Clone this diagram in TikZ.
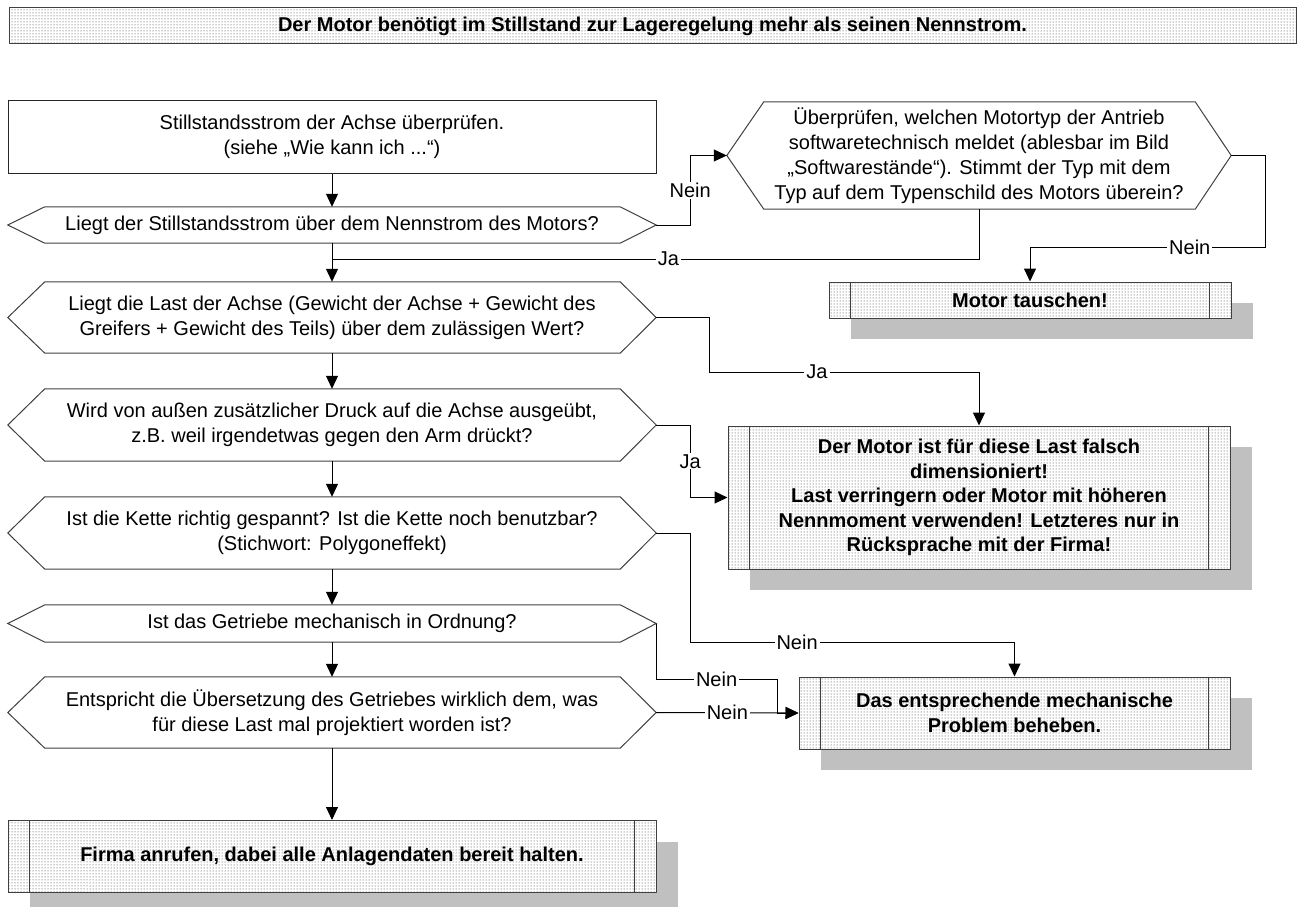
\documentclass[tikz,border=0pt]{standalone}
\usepackage{fontspec}
\setmainfont{Liberation Sans}
\usetikzlibrary{arrows.meta,shadows,patterns}
\definecolor{shadowgray}{RGB}{192,192,192}
\definecolor{edgegray}{RGB}{64,64,64}

\begin{document}
\begin{tikzpicture}[x=1pt,y=-1pt,
  txt/.style={font=\fontsize{20}{25}\selectfont, align=center, inner sep=0pt},
  plainbox/.style={txt, draw=black!85, line width=1pt},
  decision/.style={txt},
  dotted fill/.style={preaction={fill=white}, pattern=dots, pattern color=black!80},
  titlebar/.style={txt, font=\fontsize{20}{25}\selectfont\bfseries, draw=edgegray, line width=1pt, dotted fill},
  procbox/.style={txt, font=\fontsize{20}{24.5}\selectfont\bfseries, draw=edgegray, line width=1pt,
    general shadow={fill=shadowgray, shadow xshift=22pt, shadow yshift=-21pt}, dotted fill},
  shapeline/.style={draw=edgegray, line width=1pt},
  conn/.style={draw=black, line width=1pt},
  arr/.style={conn, -{Triangle[length=13pt,width=12pt]}},
  lab/.style={txt, fill=white, inner xsep=2pt, inner ysep=1pt}
]
\useasboundingbox (0,0) rectangle (1306,907);

% heading
\node[titlebar, minimum width=1287pt, minimum height=36pt] (title) at (652.5,26)
  {Der Motor benötigt im Stillstand zur Lageregelung mehr als seinen Nennstrom.};

% main column
\node[plainbox, minimum width=648pt, minimum height=73pt] (b1) at (332,136.5)
  {Stillstandsstrom der Achse überprüfen.\\(siehe „Wie kann ich ...“)};
\node[decision, minimum width=648pt, minimum height=36pt] (h2) at (332,225)
  {Liegt der Stillstandsstrom über dem Nennstrom des Motors?};
\node[decision, minimum width=648pt, minimum height=71pt] (h3) at (332,317.5)
  {Liegt die Last der Achse (Gewicht der Achse + Gewicht des\\Greifers + Gewicht des Teils) über dem zulässigen Wert?};
\node[decision, minimum width=648pt, minimum height=72pt] (h4) at (332,425)
  {Wird von außen zusätzlicher Druck auf die Achse ausgeübt,\\z.B. weil irgendetwas gegen den Arm drückt?};
\node[decision, minimum width=648pt, minimum height=72pt] (h5) at (332,533)
  {Ist die Kette richtig gespannt? Ist die Kette noch benutzbar?\\(Stichwort: Polygoneffekt)};
\node[decision, minimum width=648pt, minimum height=37pt] (h6) at (332,623.5)
  {Ist das Getriebe mechanisch in Ordnung?};
\node[decision, minimum width=648pt, minimum height=71pt] (h7) at (332,712.5)
  {Entspricht die Übersetzung des Getriebes wirklich dem, was\\für diese Last mal projektiert worden ist?};

% right column
\node[decision, minimum width=504pt, minimum height=107pt] (h8) at (979,155.5)
  {Überprüfen, welchen Motortyp der Antrieb\\softwaretechnisch meldet (ablesbar im Bild\\„Softwarestände“). Stimmt der Typ mit dem\\Typ auf dem Typenschild des Motors überein?};

% terminal actions
\node[procbox, minimum width=402pt, minimum height=36pt] (p1) at (1030,300) {Motor tauschen!};
\node[procbox, minimum width=502pt, minimum height=143pt] (p2) at (979,497.5)
  {Der Motor ist für diese Last falsch\\dimensioniert!\\Last verringern oder Motor mit höheren\\Nennmoment verwenden! Letzteres nur in\\Rücksprache mit der Firma!};
\node[procbox, minimum width=431pt, minimum height=72pt] (p3) at (1014.5,713)
  {Das entsprechende mechanische\\Problem beheben.};
\node[procbox, minimum width=648pt, minimum height=72pt] (p4) at (332,856.5)
  {Firma anrufen, dabei alle Anlagendaten bereit halten.};

% hexagon outlines of the decisions
\foreach \n in {h2,h3,h4,h5,h6,h7,h8}
  \draw[shapeline] (\n.west) -- ([xshift=37pt]\n.north west) -- ([xshift=-36pt]\n.north east)
    -- (\n.east) -- ([xshift=-36pt]\n.south east) -- ([xshift=37pt]\n.south west) -- cycle;

% inner side bars of the action boxes
\foreach \n in {p1,p2,p3,p4} {
  \draw[shapeline] ([xshift=22pt]\n.north west) -- ([xshift=22pt]\n.south west);
  \draw[shapeline] ([xshift=-22pt]\n.north east) -- ([xshift=-22pt]\n.south east);
}

% routing points
\coordinate (jm) at (332,259);
\coordinate (c1) at (1265,247);
\coordinate (c2) at (709,372);
\coordinate (c3) at (690,642);
\coordinate (c5) at (777,679);

% main flow
\draw[arr] (b1.south) -- (h2.north);
\draw[arr] (h2.south) -- (h3.north);
\draw[arr] (h3.south) -- (h4.north);
\draw[arr] (h4.south) -- (h5.north);
\draw[arr] (h5.south) -- (h6.north);
\draw[arr] (h6.south) -- (h7.north);
\draw[arr] (h7.south) -- (p4.north);

% branches
\draw[arr] (h2.east) -- ++(34,0) |- node[lab, pos=0.25] {Nein} (h8.west);
\draw[conn] (h8.south) |- node[lab, pos=0.74] {Ja} (jm);
\draw[arr] (h8.east) -| (c1) -| node[lab, pos=0.16] {Nein} (p1.north);
\draw[arr] (h3.east) -| (c2) -| node[lab, pos=0.2] {Ja} (p2.north);
\draw[arr] (h4.east) -- ++(34,0) |- node[lab, pos=0.25] {Ja} (p2.west);
\draw[arr] (h5.east) -| (c3) -| node[lab, pos=0.165] {Nein} (p3.north);
\draw[arr] (h6.east) |- node[lab, pos=0.75] {Nein} (c5) |- (p3.west);
\draw[arr] (h7.east) -- node[lab, pos=0.5] {Nein} (p3.west);
\end{tikzpicture}
\end{document}
